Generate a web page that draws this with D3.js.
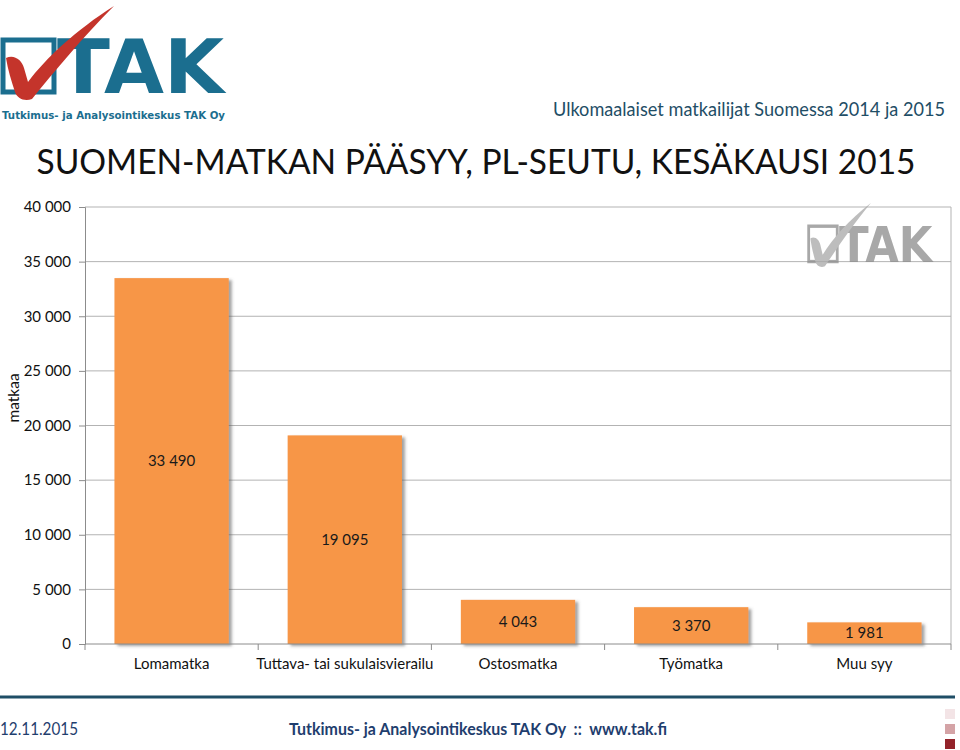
<!DOCTYPE html>
<html>
<head>
<meta charset="utf-8">
<script src="https://cdn.jsdelivr.net/npm/d3@7"></script>
<style>
  body { margin: 0; background: #fff; }
  svg { display: block; font-family: Lato, "Open Sans", sans-serif; }
</style>
</head>
<body>
<div id="chart"></div>
<script>
// data
const categories = ["Lomamatka", "Tuttava- tai sukulaisvierailu", "Ostosmatka", "Työmatka", "Muu syy"];
const values = [33490, 19095, 4043, 3370, 1981];
const yTicks = [0, 5000, 10000, 15000, 20000, 25000, 30000, 35000, 40000];

const width = 960, height = 750;
const margin = {left: 85, right: 9, top: 207, bottom: 106};

const svg = d3.select("#chart").append("svg")
    .attr("width", width)
    .attr("height", height);

const defs = svg.append("defs");
defs.append("filter").attr("id", "shadow")
    .attr("x", "-10%").attr("y", "-10%").attr("width", "130%").attr("height", "130%")
    .append("feDropShadow")
    .attr("dx", 3).attr("dy", 2).attr("stdDeviation", 1.5)
    .attr("flood-color", "#555").attr("flood-opacity", 0.55);

const fmt = n => d3.format(",")(n).replace(/,/g, " ");

// TAK logo (drawn roughly)
function drawLogo(g, boxCol, textCol, checkCol) {
    g.append("rect")
        .attr("x", 3).attr("y", 40).attr("width", 51).attr("height", 52)
        .attr("fill", "none").attr("stroke", boxCol).attr("stroke-width", 5);
    g.append("text")
        .attr("x", 57).attr("y", 93)
        .attr("font-family", "'DejaVu Sans', Arial, sans-serif")
        .attr("font-weight", "bold").attr("font-size", 74)
        .attr("textLength", 167).attr("lengthAdjust", "spacingAndGlyphs")
        .attr("fill", textCol).text("TAK");
    g.append("path")
        .attr("d", "M6,58 C14,54 22,60 24,68 L28,82 C46,58 76,30 114,6 C82,38 54,72 32,99 C24,102 17,98 15,92 C11,80 8,70 6,58 Z")
        .attr("fill", checkCol);
}

const logo = svg.append("g");
drawLogo(logo, "#1b6e8f", "#1b6e8f", "#c4342b");
logo.append("text")
    .attr("x", 2).attr("y", 119)
    .attr("font-family", "'DejaVu Sans', sans-serif")
    .attr("font-weight", "bold").attr("font-size", 11)
    .attr("textLength", 223).attr("lengthAdjust", "spacingAndGlyphs")
    .attr("fill", "#1b6e8f")
    .text("Tutkimus- ja Analysointikeskus TAK Oy");

svg.append("text")
    .attr("x", 945).attr("y", 116)
    .attr("text-anchor", "end")
    .attr("font-size", 18.5)
    .attr("textLength", 392).attr("lengthAdjust", "spacingAndGlyphs")
    .attr("fill", "#1f4e66")
    .text("Ulkomaalaiset matkailijat Suomessa 2014 ja 2015");

svg.append("text")
    .attr("x", 476).attr("y", 174)
    .attr("text-anchor", "middle")
    .attr("font-size", 34)
    .attr("textLength", 879).attr("lengthAdjust", "spacingAndGlyphs")
    .attr("fill", "#111")
    .text("SUOMEN-MATKAN PÄÄSYY, PL-SEUTU, KESÄKAUSI 2015");

// scales
const x = d3.scaleBand()
    .domain(categories)
    .range([margin.left, width - margin.right])
    .paddingInner(0.34).paddingOuter(0.17);

const y = d3.scaleLinear()
    .domain([0, 40000])
    .range([height - margin.bottom, margin.top]);

// gridlines
svg.append("g")
    .selectAll("line")
    .data(yTicks.filter(d => d > 0))
    .join("line")
    .attr("x1", margin.left).attr("x2", width - margin.right)
    .attr("y1", d => y(d)).attr("y2", d => y(d))
    .attr("stroke", "#b3b3b3").attr("stroke-width", 1);

// right border
svg.append("line")
    .attr("x1", width - margin.right).attr("x2", width - margin.right)
    .attr("y1", margin.top).attr("y2", y(0))
    .attr("stroke", "#b3b3b3");

// watermark logo
const wm = svg.append("g")
    .attr("transform", "translate(807,199) scale(0.56,0.68)")
    .attr("opacity", 0.75);
drawLogo(wm, "#8c8c8c", "#8c8c8c", "#a8a8a8");

// y axis
const yAxis = svg.append("g")
    .attr("transform", `translate(${margin.left},0)`)
    .call(d3.axisLeft(y).tickValues(yTicks).tickFormat(fmt).tickSizeOuter(0).tickSize(6).tickPadding(8));
yAxis.select(".domain").attr("stroke", "#8c8c8c");
yAxis.selectAll(".tick line").attr("stroke", "#8c8c8c");
yAxis.selectAll("text")
    .attr("font-family", "Lato, sans-serif")
    .attr("font-size", 15).attr("fill", "#111");

svg.append("text")
    .attr("transform", `translate(19,398) rotate(-90)`)
    .attr("text-anchor", "middle")
    .attr("font-size", 15.5).attr("fill", "#111")
    .text("matkaa");

// bars
svg.append("g")
    .selectAll("rect")
    .data(values)
    .join("rect")
    .attr("x", (d, i) => x(categories[i]))
    .attr("width", x.bandwidth())
    .attr("y", d => y(d))
    .attr("height", d => y(0) - y(d))
    .attr("fill", "#f79646")
    .attr("filter", "url(#shadow)");

// value labels, centred in the bars
svg.append("g")
    .selectAll("text")
    .data(values)
    .join("text")
    .attr("x", (d, i) => x(categories[i]) + x.bandwidth() / 2)
    .attr("y", d => (y(d) + y(0)) / 2 + 5)
    .attr("text-anchor", "middle")
    .attr("font-size", 15).attr("fill", "#1a1a1a")
    .text(fmt);

// x axis
const step = x.step();
const xAxis = svg.append("g");
xAxis.append("line")
    .attr("x1", margin.left).attr("x2", width - margin.right)
    .attr("y1", y(0)).attr("y2", y(0))
    .attr("stroke", "#8c8c8c");
xAxis.selectAll(".tk")
    .data(d3.range(categories.length + 1))
    .join("line")
    .attr("class", "tk")
    .attr("x1", i => margin.left + i * step).attr("x2", i => margin.left + i * step)
    .attr("y1", y(0)).attr("y2", y(0) + 6)
    .attr("stroke", "#8c8c8c");
xAxis.selectAll("text")
    .data(categories)
    .join("text")
    .attr("x", d => x(d) + x.bandwidth() / 2)
    .attr("y", 669)
    .attr("text-anchor", "middle")
    .attr("font-size", 15).attr("fill", "#111")
    .text(d => d);

// footer
svg.append("line")
    .attr("x1", 0).attr("x2", 955)
    .attr("y1", 697).attr("y2", 697)
    .attr("stroke", "#1f4e66").attr("stroke-width", 3);

svg.append("text")
    .attr("x", 0).attr("y", 735)
    .attr("font-size", 17)
    .attr("textLength", 78).attr("lengthAdjust", "spacingAndGlyphs")
    .attr("fill", "#1f3e6e")
    .text("12.11.2015");

svg.append("text")
    .attr("x", 289).attr("y", 735)
    .attr("font-size", 17).attr("font-weight", "bold")
    .attr("textLength", 378).attr("lengthAdjust", "spacingAndGlyphs")
    .attr("fill", "#1f3e6e")
    .attr("xml:space", "preserve")
    .text("Tutkimus- ja Analysointikeskus TAK Oy  ::  www.tak.fi");

const squareCols = ["#f3e4e6", "#d4a3a6", "#93232a"];
svg.append("g")
    .selectAll("rect")
    .data(squareCols)
    .join("rect")
    .attr("x", 945).attr("y", (d, i) => 709 + i * 15)
    .attr("width", 10).attr("height", 10)
    .attr("fill", d => d);
</script>
</body>
</html>
